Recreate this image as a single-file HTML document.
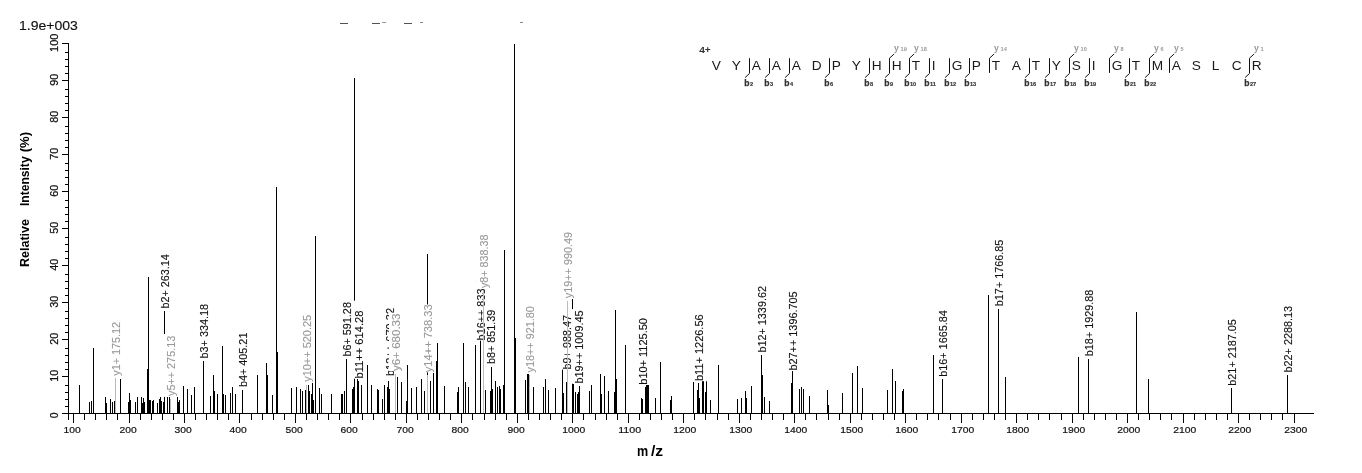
<!DOCTYPE html>
<html lang="en"><head><meta charset="utf-8"><title>MS/MS spectrum</title>
<style>html,body{margin:0;padding:0;background:#fff}body{width:1362px;height:473px;overflow:hidden}svg{display:block}text{font-family:"Liberation Sans",sans-serif}.k{stroke:#111;stroke-width:.13px}.g{stroke:#999;stroke-width:.12px}</style></head><body>
<svg width="1362" height="473" viewBox="0 0 1362 473">
<rect width="1362" height="473" fill="#fff"/>
<g shape-rendering="crispEdges" fill="#000">
<rect x="68" y="43" width="1" height="377"/>
<rect x="62" y="413" width="1252" height="1"/>
<rect x="62" y="413" width="6" height="1"/>
<rect x="65" y="406" width="3" height="1"/>
<rect x="65" y="399" width="3" height="1"/>
<rect x="65" y="392" width="3" height="1"/>
<rect x="65" y="385" width="3" height="1"/>
<rect x="62" y="376" width="6" height="1"/>
<rect x="65" y="369" width="3" height="1"/>
<rect x="65" y="362" width="3" height="1"/>
<rect x="65" y="355" width="3" height="1"/>
<rect x="65" y="348" width="3" height="1"/>
<rect x="62" y="339" width="6" height="1"/>
<rect x="65" y="332" width="3" height="1"/>
<rect x="65" y="325" width="3" height="1"/>
<rect x="65" y="318" width="3" height="1"/>
<rect x="65" y="311" width="3" height="1"/>
<rect x="62" y="302" width="6" height="1"/>
<rect x="65" y="295" width="3" height="1"/>
<rect x="65" y="288" width="3" height="1"/>
<rect x="65" y="281" width="3" height="1"/>
<rect x="65" y="274" width="3" height="1"/>
<rect x="62" y="265" width="6" height="1"/>
<rect x="65" y="258" width="3" height="1"/>
<rect x="65" y="251" width="3" height="1"/>
<rect x="65" y="244" width="3" height="1"/>
<rect x="65" y="237" width="3" height="1"/>
<rect x="62" y="228" width="6" height="1"/>
<rect x="65" y="221" width="3" height="1"/>
<rect x="65" y="214" width="3" height="1"/>
<rect x="65" y="207" width="3" height="1"/>
<rect x="65" y="200" width="3" height="1"/>
<rect x="62" y="191" width="6" height="1"/>
<rect x="65" y="184" width="3" height="1"/>
<rect x="65" y="177" width="3" height="1"/>
<rect x="65" y="170" width="3" height="1"/>
<rect x="65" y="163" width="3" height="1"/>
<rect x="62" y="154" width="6" height="1"/>
<rect x="65" y="147" width="3" height="1"/>
<rect x="65" y="140" width="3" height="1"/>
<rect x="65" y="133" width="3" height="1"/>
<rect x="65" y="126" width="3" height="1"/>
<rect x="62" y="117" width="6" height="1"/>
<rect x="65" y="110" width="3" height="1"/>
<rect x="65" y="103" width="3" height="1"/>
<rect x="65" y="96" width="3" height="1"/>
<rect x="65" y="89" width="3" height="1"/>
<rect x="62" y="80" width="6" height="1"/>
<rect x="65" y="73" width="3" height="1"/>
<rect x="65" y="66" width="3" height="1"/>
<rect x="65" y="59" width="3" height="1"/>
<rect x="65" y="52" width="3" height="1"/>
<rect x="62" y="43" width="6" height="1"/>
<rect x="73" y="413" width="1" height="10"/>
<rect x="84" y="413" width="1" height="7"/>
<rect x="95" y="413" width="1" height="7"/>
<rect x="106" y="413" width="1" height="7"/>
<rect x="117" y="413" width="1" height="7"/>
<rect x="129" y="413" width="1" height="10"/>
<rect x="140" y="413" width="1" height="7"/>
<rect x="151" y="413" width="1" height="7"/>
<rect x="162" y="413" width="1" height="7"/>
<rect x="173" y="413" width="1" height="7"/>
<rect x="184" y="413" width="1" height="10"/>
<rect x="195" y="413" width="1" height="7"/>
<rect x="206" y="413" width="1" height="7"/>
<rect x="217" y="413" width="1" height="7"/>
<rect x="228" y="413" width="1" height="7"/>
<rect x="239" y="413" width="1" height="10"/>
<rect x="251" y="413" width="1" height="7"/>
<rect x="262" y="413" width="1" height="7"/>
<rect x="273" y="413" width="1" height="7"/>
<rect x="284" y="413" width="1" height="7"/>
<rect x="295" y="413" width="1" height="10"/>
<rect x="306" y="413" width="1" height="7"/>
<rect x="317" y="413" width="1" height="7"/>
<rect x="328" y="413" width="1" height="7"/>
<rect x="339" y="413" width="1" height="7"/>
<rect x="350" y="413" width="1" height="10"/>
<rect x="362" y="413" width="1" height="7"/>
<rect x="373" y="413" width="1" height="7"/>
<rect x="384" y="413" width="1" height="7"/>
<rect x="395" y="413" width="1" height="7"/>
<rect x="406" y="413" width="1" height="10"/>
<rect x="417" y="413" width="1" height="7"/>
<rect x="428" y="413" width="1" height="7"/>
<rect x="439" y="413" width="1" height="7"/>
<rect x="450" y="413" width="1" height="7"/>
<rect x="461" y="413" width="1" height="10"/>
<rect x="472" y="413" width="1" height="7"/>
<rect x="484" y="413" width="1" height="7"/>
<rect x="495" y="413" width="1" height="7"/>
<rect x="506" y="413" width="1" height="7"/>
<rect x="517" y="413" width="1" height="10"/>
<rect x="528" y="413" width="1" height="7"/>
<rect x="539" y="413" width="1" height="7"/>
<rect x="550" y="413" width="1" height="7"/>
<rect x="561" y="413" width="1" height="7"/>
<rect x="572" y="413" width="1" height="10"/>
<rect x="583" y="413" width="1" height="7"/>
<rect x="595" y="413" width="1" height="7"/>
<rect x="606" y="413" width="1" height="7"/>
<rect x="617" y="413" width="1" height="7"/>
<rect x="628" y="413" width="1" height="10"/>
<rect x="639" y="413" width="1" height="7"/>
<rect x="650" y="413" width="1" height="7"/>
<rect x="661" y="413" width="1" height="7"/>
<rect x="672" y="413" width="1" height="7"/>
<rect x="683" y="413" width="1" height="10"/>
<rect x="694" y="413" width="1" height="7"/>
<rect x="705" y="413" width="1" height="7"/>
<rect x="717" y="413" width="1" height="7"/>
<rect x="728" y="413" width="1" height="7"/>
<rect x="739" y="413" width="1" height="10"/>
<rect x="750" y="413" width="1" height="7"/>
<rect x="761" y="413" width="1" height="7"/>
<rect x="772" y="413" width="1" height="7"/>
<rect x="783" y="413" width="1" height="7"/>
<rect x="794" y="413" width="1" height="10"/>
<rect x="805" y="413" width="1" height="7"/>
<rect x="816" y="413" width="1" height="7"/>
<rect x="828" y="413" width="1" height="7"/>
<rect x="839" y="413" width="1" height="7"/>
<rect x="850" y="413" width="1" height="10"/>
<rect x="861" y="413" width="1" height="7"/>
<rect x="872" y="413" width="1" height="7"/>
<rect x="883" y="413" width="1" height="7"/>
<rect x="894" y="413" width="1" height="7"/>
<rect x="905" y="413" width="1" height="10"/>
<rect x="916" y="413" width="1" height="7"/>
<rect x="927" y="413" width="1" height="7"/>
<rect x="938" y="413" width="1" height="7"/>
<rect x="950" y="413" width="1" height="7"/>
<rect x="961" y="413" width="1" height="10"/>
<rect x="972" y="413" width="1" height="7"/>
<rect x="983" y="413" width="1" height="7"/>
<rect x="994" y="413" width="1" height="7"/>
<rect x="1005" y="413" width="1" height="7"/>
<rect x="1016" y="413" width="1" height="10"/>
<rect x="1027" y="413" width="1" height="7"/>
<rect x="1038" y="413" width="1" height="7"/>
<rect x="1049" y="413" width="1" height="7"/>
<rect x="1061" y="413" width="1" height="7"/>
<rect x="1072" y="413" width="1" height="10"/>
<rect x="1083" y="413" width="1" height="7"/>
<rect x="1094" y="413" width="1" height="7"/>
<rect x="1105" y="413" width="1" height="7"/>
<rect x="1116" y="413" width="1" height="7"/>
<rect x="1127" y="413" width="1" height="10"/>
<rect x="1138" y="413" width="1" height="7"/>
<rect x="1149" y="413" width="1" height="7"/>
<rect x="1160" y="413" width="1" height="7"/>
<rect x="1171" y="413" width="1" height="7"/>
<rect x="1183" y="413" width="1" height="10"/>
<rect x="1194" y="413" width="1" height="7"/>
<rect x="1205" y="413" width="1" height="7"/>
<rect x="1216" y="413" width="1" height="7"/>
<rect x="1227" y="413" width="1" height="7"/>
<rect x="1238" y="413" width="1" height="10"/>
<rect x="1249" y="413" width="1" height="7"/>
<rect x="1260" y="413" width="1" height="7"/>
<rect x="1271" y="413" width="1" height="7"/>
<rect x="1282" y="413" width="1" height="7"/>
<rect x="1294" y="413" width="1" height="10"/>
</g>
<g class="k" font-size="9.9" fill="#111" style="stroke-width:.2px">
<text x="63.5" y="433.2" textLength="17.2" lengthAdjust="spacingAndGlyphs">100</text>
<text x="119.5" y="433.2" textLength="17.2" lengthAdjust="spacingAndGlyphs">200</text>
<text x="174.5" y="433.2" textLength="17.2" lengthAdjust="spacingAndGlyphs">300</text>
<text x="229.5" y="433.2" textLength="17.2" lengthAdjust="spacingAndGlyphs">400</text>
<text x="285.5" y="433.2" textLength="17.2" lengthAdjust="spacingAndGlyphs">500</text>
<text x="340.5" y="433.2" textLength="17.2" lengthAdjust="spacingAndGlyphs">600</text>
<text x="396.5" y="433.2" textLength="17.2" lengthAdjust="spacingAndGlyphs">700</text>
<text x="451.5" y="433.2" textLength="17.2" lengthAdjust="spacingAndGlyphs">800</text>
<text x="507.5" y="433.2" textLength="17.2" lengthAdjust="spacingAndGlyphs">900</text>
<text x="562.2" y="433.2" textLength="23.0" lengthAdjust="spacingAndGlyphs">1000</text>
<text x="618.2" y="433.2" textLength="23.0" lengthAdjust="spacingAndGlyphs">1100</text>
<text x="673.2" y="433.2" textLength="23.0" lengthAdjust="spacingAndGlyphs">1200</text>
<text x="729.2" y="433.2" textLength="23.0" lengthAdjust="spacingAndGlyphs">1300</text>
<text x="784.2" y="433.2" textLength="23.0" lengthAdjust="spacingAndGlyphs">1400</text>
<text x="840.2" y="433.2" textLength="23.0" lengthAdjust="spacingAndGlyphs">1500</text>
<text x="895.2" y="433.2" textLength="23.0" lengthAdjust="spacingAndGlyphs">1600</text>
<text x="951.2" y="433.2" textLength="23.0" lengthAdjust="spacingAndGlyphs">1700</text>
<text x="1006.2" y="433.2" textLength="23.0" lengthAdjust="spacingAndGlyphs">1800</text>
<text x="1062.2" y="433.2" textLength="23.0" lengthAdjust="spacingAndGlyphs">1900</text>
<text x="1117.2" y="433.2" textLength="23.0" lengthAdjust="spacingAndGlyphs">2000</text>
<text x="1173.2" y="433.2" textLength="23.0" lengthAdjust="spacingAndGlyphs">2100</text>
<text x="1228.2" y="433.2" textLength="23.0" lengthAdjust="spacingAndGlyphs">2200</text>
<text x="1284.2" y="433.2" textLength="23.0" lengthAdjust="spacingAndGlyphs">2300</text>
</g>
<g class="k" font-size="11.5" fill="#111" style="stroke-width:.25px">
<text transform="translate(58.0,418.3) rotate(-90)" textLength="5.8" lengthAdjust="spacingAndGlyphs">0</text>
<text transform="translate(58.0,381.8) rotate(-90)" textLength="12.0" lengthAdjust="spacingAndGlyphs">10</text>
<text transform="translate(58.0,344.8) rotate(-90)" textLength="12.0" lengthAdjust="spacingAndGlyphs">20</text>
<text transform="translate(58.0,307.8) rotate(-90)" textLength="12.0" lengthAdjust="spacingAndGlyphs">30</text>
<text transform="translate(58.0,270.8) rotate(-90)" textLength="12.0" lengthAdjust="spacingAndGlyphs">40</text>
<text transform="translate(58.0,233.8) rotate(-90)" textLength="12.0" lengthAdjust="spacingAndGlyphs">50</text>
<text transform="translate(58.0,196.8) rotate(-90)" textLength="12.0" lengthAdjust="spacingAndGlyphs">60</text>
<text transform="translate(58.0,159.8) rotate(-90)" textLength="12.0" lengthAdjust="spacingAndGlyphs">70</text>
<text transform="translate(58.0,122.8) rotate(-90)" textLength="12.0" lengthAdjust="spacingAndGlyphs">80</text>
<text transform="translate(58.0,85.8) rotate(-90)" textLength="12.0" lengthAdjust="spacingAndGlyphs">90</text>
<text transform="translate(58.0,51.9) rotate(-90)" textLength="18.2" lengthAdjust="spacingAndGlyphs">100</text>
</g>
<text class="k" x="19.0" y="30.2" font-size="12.3" fill="#111" textLength="58.9" lengthAdjust="spacingAndGlyphs">1.9e+003</text>
<g font-size="12" font-weight="bold" fill="#000">
<text transform="translate(29.3,267) rotate(-90)" textLength="48" lengthAdjust="spacingAndGlyphs">Relative</text>
<text transform="translate(29.3,206) rotate(-90)" textLength="49.6" lengthAdjust="spacingAndGlyphs">Intensity</text>
<text transform="translate(29.3,152.3) rotate(-90)" textLength="20.5" lengthAdjust="spacingAndGlyphs">(%)</text>
</g>
<text x="636.9" y="455.8" font-size="14.6" font-weight="bold" fill="#000" textLength="11.2" lengthAdjust="spacingAndGlyphs">m</text>
<text x="651.0" y="455.8" font-size="14.6" font-weight="bold" fill="#000" textLength="12.2" lengthAdjust="spacingAndGlyphs">/z</text>
<g fill="#555"><rect x="340" y="23" width="8" height="1"/><rect x="372" y="23" width="8" height="1"/><rect x="382" y="22" width="4" height="1" fill="#999"/><rect x="404" y="23" width="8" height="1"/><rect x="420" y="22" width="3" height="1" fill="#888"/><rect x="520" y="22" width="3" height="1" fill="#888"/></g>
<g shape-rendering="crispEdges" fill="#000">
<rect x="79" y="385" width="1" height="28"/>
<rect x="89" y="402" width="1" height="11"/>
<rect x="91" y="401" width="1" height="12"/>
<rect x="93" y="348" width="1" height="65"/>
<rect x="105" y="397" width="1" height="16"/>
<rect x="106" y="403" width="1" height="10"/>
<rect x="110" y="399" width="1" height="14"/>
<rect x="112" y="402" width="1" height="11"/>
<rect x="114" y="401" width="1" height="12"/>
<rect x="120" y="379" width="1" height="34"/>
<rect x="128" y="402" width="1" height="11"/>
<rect x="129" y="393" width="1" height="20"/>
<rect x="130" y="400" width="1" height="13"/>
<rect x="135" y="402" width="1" height="11"/>
<rect x="137" y="397" width="1" height="16"/>
<rect x="141" y="397" width="1" height="16"/>
<rect x="142" y="403" width="1" height="10"/>
<rect x="143" y="398" width="1" height="15"/>
<rect x="144" y="402" width="1" height="11"/>
<rect x="147" y="369" width="1" height="44"/>
<rect x="148" y="277" width="1" height="136"/>
<rect x="149" y="400" width="1" height="13"/>
<rect x="150" y="400" width="1" height="13"/>
<rect x="152" y="401" width="1" height="12"/>
<rect x="153" y="400" width="1" height="13"/>
<rect x="157" y="403" width="1" height="10"/>
<rect x="159" y="399" width="1" height="14"/>
<rect x="160" y="397" width="1" height="16"/>
<rect x="161" y="401" width="1" height="12"/>
<rect x="163" y="402" width="1" height="11"/>
<rect x="164" y="397" width="1" height="16"/>
<rect x="167" y="397" width="1" height="16"/>
<rect x="169" y="397" width="1" height="16"/>
<rect x="177" y="397" width="1" height="16"/>
<rect x="178" y="402" width="1" height="11"/>
<rect x="179" y="400" width="1" height="13"/>
<rect x="183" y="386" width="1" height="27"/>
<rect x="187" y="389" width="1" height="24"/>
<rect x="191" y="395" width="1" height="18"/>
<rect x="194" y="387" width="1" height="26"/>
<rect x="203" y="361" width="1" height="52"/>
<rect x="210" y="396" width="1" height="17"/>
<rect x="213" y="375" width="1" height="38"/>
<rect x="214" y="391" width="1" height="22"/>
<rect x="217" y="394" width="1" height="19"/>
<rect x="222" y="346" width="1" height="67"/>
<rect x="223" y="394" width="1" height="19"/>
<rect x="225" y="395" width="1" height="18"/>
<rect x="230" y="393" width="1" height="20"/>
<rect x="232" y="387" width="1" height="26"/>
<rect x="235" y="394" width="1" height="19"/>
<rect x="242" y="390" width="1" height="23"/>
<rect x="257" y="375" width="1" height="38"/>
<rect x="266" y="363" width="1" height="50"/>
<rect x="267" y="375" width="1" height="38"/>
<rect x="272" y="395" width="1" height="18"/>
<rect x="276" y="187" width="1" height="226"/>
<rect x="277" y="352" width="1" height="61"/>
<rect x="291" y="388" width="1" height="25"/>
<rect x="296" y="387" width="1" height="26"/>
<rect x="300" y="389" width="1" height="24"/>
<rect x="302" y="391" width="1" height="22"/>
<rect x="305" y="390" width="1" height="23"/>
<rect x="308" y="385" width="1" height="28"/>
<rect x="309" y="391" width="1" height="22"/>
<rect x="311" y="394" width="1" height="19"/>
<rect x="312" y="383" width="1" height="30"/>
<rect x="313" y="400" width="1" height="13"/>
<rect x="315" y="236" width="1" height="177"/>
<rect x="319" y="388" width="1" height="25"/>
<rect x="321" y="394" width="1" height="19"/>
<rect x="331" y="394" width="1" height="19"/>
<rect x="341" y="394" width="1" height="19"/>
<rect x="342" y="394" width="1" height="19"/>
<rect x="344" y="391" width="1" height="22"/>
<rect x="346" y="359" width="1" height="54"/>
<rect x="352" y="389" width="1" height="24"/>
<rect x="353" y="387" width="1" height="26"/>
<rect x="354" y="78" width="1" height="335"/>
<rect x="357" y="379" width="1" height="34"/>
<rect x="358" y="381" width="1" height="32"/>
<rect x="361" y="385" width="1" height="28"/>
<rect x="367" y="365" width="1" height="48"/>
<rect x="371" y="385" width="1" height="28"/>
<rect x="377" y="389" width="1" height="24"/>
<rect x="378" y="390" width="1" height="23"/>
<rect x="382" y="399" width="1" height="14"/>
<rect x="384" y="385" width="1" height="28"/>
<rect x="387" y="387" width="1" height="26"/>
<rect x="388" y="381" width="1" height="32"/>
<rect x="389" y="389" width="1" height="24"/>
<rect x="397" y="377" width="1" height="36"/>
<rect x="401" y="382" width="1" height="31"/>
<rect x="406" y="401" width="1" height="12"/>
<rect x="407" y="365" width="1" height="48"/>
<rect x="411" y="388" width="1" height="25"/>
<rect x="416" y="387" width="1" height="26"/>
<rect x="421" y="379" width="1" height="34"/>
<rect x="424" y="391" width="1" height="22"/>
<rect x="427" y="254" width="1" height="159"/>
<rect x="430" y="381" width="1" height="32"/>
<rect x="433" y="373" width="1" height="40"/>
<rect x="436" y="361" width="1" height="52"/>
<rect x="437" y="343" width="1" height="70"/>
<rect x="444" y="386" width="1" height="27"/>
<rect x="457" y="392" width="1" height="21"/>
<rect x="458" y="387" width="1" height="26"/>
<rect x="463" y="343" width="1" height="70"/>
<rect x="465" y="382" width="1" height="31"/>
<rect x="468" y="387" width="1" height="26"/>
<rect x="475" y="345" width="1" height="68"/>
<rect x="480" y="336" width="1" height="77"/>
<rect x="485" y="390" width="1" height="23"/>
<rect x="490" y="391" width="1" height="22"/>
<rect x="491" y="367" width="1" height="46"/>
<rect x="492" y="389" width="1" height="24"/>
<rect x="495" y="381" width="1" height="32"/>
<rect x="497" y="387" width="1" height="26"/>
<rect x="499" y="386" width="1" height="27"/>
<rect x="500" y="389" width="1" height="24"/>
<rect x="503" y="385" width="1" height="28"/>
<rect x="504" y="250" width="1" height="163"/>
<rect x="514" y="44" width="1" height="369"/>
<rect x="515" y="338" width="1" height="75"/>
<rect x="525" y="380" width="1" height="33"/>
<rect x="527" y="374" width="1" height="39"/>
<rect x="528" y="374" width="1" height="39"/>
<rect x="533" y="387" width="1" height="26"/>
<rect x="543" y="387" width="1" height="26"/>
<rect x="545" y="379" width="1" height="34"/>
<rect x="548" y="390" width="1" height="23"/>
<rect x="555" y="388" width="1" height="25"/>
<rect x="562" y="369" width="1" height="44"/>
<rect x="563" y="393" width="1" height="20"/>
<rect x="572" y="299" width="1" height="114"/>
<rect x="573" y="384" width="1" height="29"/>
<rect x="575" y="392" width="1" height="21"/>
<rect x="577" y="394" width="1" height="19"/>
<rect x="578" y="392" width="1" height="21"/>
<rect x="579" y="386" width="1" height="27"/>
<rect x="589" y="391" width="1" height="22"/>
<rect x="591" y="385" width="1" height="28"/>
<rect x="600" y="374" width="1" height="39"/>
<rect x="601" y="394" width="1" height="19"/>
<rect x="604" y="376" width="1" height="37"/>
<rect x="608" y="391" width="1" height="22"/>
<rect x="614" y="392" width="1" height="21"/>
<rect x="615" y="310" width="1" height="103"/>
<rect x="616" y="379" width="1" height="34"/>
<rect x="625" y="345" width="1" height="68"/>
<rect x="641" y="398" width="1" height="15"/>
<rect x="642" y="399" width="1" height="14"/>
<rect x="645" y="387" width="1" height="26"/>
<rect x="646" y="385" width="1" height="28"/>
<rect x="647" y="385" width="1" height="28"/>
<rect x="648" y="385" width="1" height="28"/>
<rect x="655" y="398" width="1" height="15"/>
<rect x="660" y="362" width="1" height="51"/>
<rect x="670" y="400" width="1" height="13"/>
<rect x="671" y="396" width="1" height="17"/>
<rect x="693" y="382" width="1" height="31"/>
<rect x="697" y="390" width="1" height="23"/>
<rect x="698" y="383" width="1" height="30"/>
<rect x="699" y="398" width="1" height="15"/>
<rect x="702" y="381" width="1" height="32"/>
<rect x="703" y="381" width="1" height="32"/>
<rect x="705" y="392" width="1" height="21"/>
<rect x="706" y="381" width="1" height="32"/>
<rect x="710" y="400" width="1" height="13"/>
<rect x="718" y="365" width="1" height="48"/>
<rect x="737" y="399" width="1" height="14"/>
<rect x="741" y="398" width="1" height="15"/>
<rect x="745" y="391" width="1" height="22"/>
<rect x="746" y="398" width="1" height="15"/>
<rect x="751" y="386" width="1" height="27"/>
<rect x="761" y="355" width="1" height="58"/>
<rect x="762" y="375" width="1" height="38"/>
<rect x="764" y="397" width="1" height="16"/>
<rect x="769" y="401" width="1" height="12"/>
<rect x="791" y="383" width="1" height="30"/>
<rect x="792" y="371" width="1" height="42"/>
<rect x="799" y="389" width="1" height="24"/>
<rect x="801" y="387" width="1" height="26"/>
<rect x="803" y="389" width="1" height="24"/>
<rect x="809" y="396" width="1" height="17"/>
<rect x="827" y="390" width="1" height="23"/>
<rect x="828" y="405" width="1" height="8"/>
<rect x="842" y="393" width="1" height="20"/>
<rect x="852" y="373" width="1" height="40"/>
<rect x="857" y="366" width="1" height="47"/>
<rect x="862" y="388" width="1" height="25"/>
<rect x="887" y="390" width="1" height="23"/>
<rect x="892" y="369" width="1" height="44"/>
<rect x="895" y="381" width="1" height="32"/>
<rect x="902" y="391" width="1" height="22"/>
<rect x="903" y="389" width="1" height="24"/>
<rect x="933" y="355" width="1" height="58"/>
<rect x="942" y="379" width="1" height="34"/>
<rect x="988" y="295" width="1" height="118"/>
<rect x="998" y="309" width="1" height="104"/>
<rect x="1005" y="377" width="1" height="36"/>
<rect x="1078" y="357" width="1" height="56"/>
<rect x="1088" y="359" width="1" height="54"/>
<rect x="1136" y="312" width="1" height="101"/>
<rect x="1148" y="379" width="1" height="34"/>
<rect x="1231" y="388" width="1" height="25"/>
<rect x="1287" y="375" width="1" height="38"/>
</g>
<rect shape-rendering="crispEdges" x="115" y="378" width="1" height="35" fill="#bbb"/>
<rect x="109" y="320.6" width="15" height="55.3" fill="#fff"/>
<text class="g" transform="translate(120.1,375.7) rotate(-90)" font-size="11" fill="#999" textLength="53.7" lengthAdjust="spacingAndGlyphs">y1+ 175.12</text>
<rect shape-rendering="crispEdges" x="164" y="311" width="1" height="23" fill="#000"/>
<rect x="158" y="252.8" width="15" height="56.0" fill="#fff"/>
<text class="k" transform="translate(169.1,308.6) rotate(-90)" font-size="11" fill="#111" textLength="54.4" lengthAdjust="spacingAndGlyphs">b2+ 263.14</text>
<rect shape-rendering="crispEdges" x="170" y="399" width="1" height="14" fill="#bbb"/>
<rect x="164" y="334.4" width="15" height="61.8" fill="#fff"/>
<text class="g" transform="translate(175.1,396.0) rotate(-90)" font-size="11" fill="#999" textLength="60.2" lengthAdjust="spacingAndGlyphs">y5++ 275.13</text>
<rect shape-rendering="crispEdges" x="203" y="361" width="1" height="52" fill="#000"/>
<rect x="197" y="302.6" width="15" height="56.0" fill="#fff"/>
<text class="k" transform="translate(208.1,358.4) rotate(-90)" font-size="11" fill="#111" textLength="54.4" lengthAdjust="spacingAndGlyphs">b3+ 334.18</text>
<rect shape-rendering="crispEdges" x="242" y="390" width="1" height="23" fill="#000"/>
<rect x="236" y="331.2" width="15" height="56.0" fill="#fff"/>
<text class="k" transform="translate(247.1,387.0) rotate(-90)" font-size="11" fill="#111" textLength="54.4" lengthAdjust="spacingAndGlyphs">b4+ 405.21</text>
<rect shape-rendering="crispEdges" x="306" y="385" width="1" height="28" fill="#bbb"/>
<rect x="300" y="314.1" width="15" height="67.9" fill="#fff"/>
<text class="g" transform="translate(311.1,381.8) rotate(-90)" font-size="11" fill="#999" textLength="67.0" lengthAdjust="spacingAndGlyphs">y10++ 520.25</text>
<rect shape-rendering="crispEdges" x="346" y="359" width="1" height="54" fill="#000"/>
<rect x="340" y="300.7" width="15" height="56.0" fill="#fff"/>
<text class="k" transform="translate(351.1,356.5) rotate(-90)" font-size="11" fill="#111" textLength="54.4" lengthAdjust="spacingAndGlyphs">b6+ 591.28</text>
<rect shape-rendering="crispEdges" x="358" y="381" width="1" height="32" fill="#000"/>
<rect x="352" y="310.2" width="15" height="68.5" fill="#fff"/>
<text class="k" transform="translate(363.1,378.5) rotate(-90)" font-size="11" fill="#111" textLength="67.9" lengthAdjust="spacingAndGlyphs">b11++ 614.28</text>
<rect shape-rendering="crispEdges" x="389" y="389" width="1" height="24" fill="#000"/>
<rect x="383" y="307.8" width="15" height="68.5" fill="#fff"/>
<text class="k" transform="translate(394.1,376.1) rotate(-90)" font-size="11" fill="#111" textLength="68.2" lengthAdjust="spacingAndGlyphs">b12++ 670.32</text>
<rect shape-rendering="crispEdges" x="395" y="374" width="1" height="39" fill="#bbb"/>
<rect x="389" y="312.6" width="15" height="58.5" fill="#fff"/>
<text class="g" transform="translate(400.1,370.9) rotate(-90)" font-size="11" fill="#999" textLength="57.3" lengthAdjust="spacingAndGlyphs">y6+ 680.33</text>
<rect shape-rendering="crispEdges" x="427" y="375" width="1" height="38" fill="#bbb"/>
<rect x="421" y="304.5" width="15" height="67.9" fill="#fff"/>
<text class="g" transform="translate(432.1,372.2) rotate(-90)" font-size="11" fill="#999" textLength="67.8" lengthAdjust="spacingAndGlyphs">y14++ 738.33</text>
<rect shape-rendering="crispEdges" x="480" y="343" width="1" height="70" fill="#000"/>
<rect x="474" y="272.1" width="15" height="68.5" fill="#fff"/>
<text class="k" transform="translate(485.1,340.4) rotate(-90)" font-size="11" fill="#111" textLength="66.9" lengthAdjust="spacingAndGlyphs">b16++ 833.42</text>
<rect shape-rendering="crispEdges" x="483" y="291" width="1" height="122" fill="#bbb"/>
<rect x="477" y="233.0" width="15" height="55.3" fill="#fff"/>
<text class="g" transform="translate(488.1,288.1) rotate(-90)" font-size="11" fill="#999" textLength="53.7" lengthAdjust="spacingAndGlyphs">y8+ 838.38</text>
<rect shape-rendering="crispEdges" x="491" y="367" width="1" height="46" fill="#000"/>
<rect x="485" y="308.3" width="15" height="56.0" fill="#fff"/>
<text class="k" transform="translate(495.1,364.1) rotate(-90)" font-size="11" fill="#111" textLength="54.4" lengthAdjust="spacingAndGlyphs">b8+ 851.39</text>
<rect shape-rendering="crispEdges" x="529" y="375" width="1" height="38" fill="#bbb"/>
<rect x="523" y="304.8" width="15" height="67.9" fill="#fff"/>
<text class="g" transform="translate(534.1,372.5) rotate(-90)" font-size="11" fill="#999" textLength="66.3" lengthAdjust="spacingAndGlyphs">y18++ 921.80</text>
<rect shape-rendering="crispEdges" x="566" y="382" width="1" height="31" fill="#000"/>
<rect x="560" y="313.6" width="15" height="56.0" fill="#fff"/>
<text class="k" transform="translate(571.1,369.4) rotate(-90)" font-size="11" fill="#111" textLength="54.4" lengthAdjust="spacingAndGlyphs">b9+ 988.47</text>
<rect shape-rendering="crispEdges" x="567" y="301" width="1" height="112" fill="#bbb"/>
<rect x="561" y="230.5" width="15" height="67.9" fill="#fff"/>
<text class="g" transform="translate(572.1,298.2) rotate(-90)" font-size="11" fill="#999" textLength="66.3" lengthAdjust="spacingAndGlyphs">y19++ 990.49</text>
<rect shape-rendering="crispEdges" x="578" y="392" width="1" height="21" fill="#000"/>
<rect x="572" y="309.1" width="15" height="74.6" fill="#fff"/>
<text class="k" transform="translate(583.1,383.5) rotate(-90)" font-size="11" fill="#111" textLength="73.0" lengthAdjust="spacingAndGlyphs">b19++ 1009.45</text>
<rect shape-rendering="crispEdges" x="642" y="399" width="1" height="14" fill="#000"/>
<rect x="636" y="316.7" width="15" height="68.2" fill="#fff"/>
<text class="k" transform="translate(647.1,384.7) rotate(-90)" font-size="11" fill="#111" textLength="66.6" lengthAdjust="spacingAndGlyphs">b10+ 1125.50</text>
<rect shape-rendering="crispEdges" x="698" y="384" width="1" height="29" fill="#000"/>
<rect x="692" y="313.0" width="15" height="68.2" fill="#fff"/>
<text class="k" transform="translate(703.1,381.0) rotate(-90)" font-size="11" fill="#111" textLength="66.6" lengthAdjust="spacingAndGlyphs">b11+ 1226.56</text>
<rect shape-rendering="crispEdges" x="761" y="355" width="1" height="58" fill="#000"/>
<rect x="755" y="284.6" width="15" height="68.2" fill="#fff"/>
<text class="k" transform="translate(766.1,352.6) rotate(-90)" font-size="11" fill="#111" textLength="66.6" lengthAdjust="spacingAndGlyphs">b12+ 1339.62</text>
<rect shape-rendering="crispEdges" x="792" y="373" width="1" height="40" fill="#000"/>
<rect x="786" y="290.0" width="15" height="80.7" fill="#fff"/>
<text class="k" transform="translate(797.1,370.5) rotate(-90)" font-size="11" fill="#111" textLength="79.1" lengthAdjust="spacingAndGlyphs">b27++ 1396.705</text>
<rect shape-rendering="crispEdges" x="942" y="380" width="1" height="33" fill="#000"/>
<rect x="936" y="308.8" width="15" height="68.2" fill="#fff"/>
<text class="k" transform="translate(947.1,376.8) rotate(-90)" font-size="11" fill="#111" textLength="66.6" lengthAdjust="spacingAndGlyphs">b16+ 1665.84</text>
<rect shape-rendering="crispEdges" x="998" y="309" width="1" height="104" fill="#000"/>
<rect x="992" y="238.2" width="15" height="68.2" fill="#fff"/>
<text class="k" transform="translate(1003.1,306.2) rotate(-90)" font-size="11" fill="#111" textLength="66.6" lengthAdjust="spacingAndGlyphs">b17+ 1766.85</text>
<rect shape-rendering="crispEdges" x="1088" y="359" width="1" height="54" fill="#000"/>
<rect x="1082" y="288.2" width="15" height="68.2" fill="#fff"/>
<text class="k" transform="translate(1093.1,356.2) rotate(-90)" font-size="11" fill="#111" textLength="66.6" lengthAdjust="spacingAndGlyphs">b18+ 1929.88</text>
<rect shape-rendering="crispEdges" x="1231" y="388" width="1" height="25" fill="#000"/>
<rect x="1225" y="317.7" width="15" height="68.2" fill="#fff"/>
<text class="k" transform="translate(1236.1,385.7) rotate(-90)" font-size="11" fill="#111" textLength="66.6" lengthAdjust="spacingAndGlyphs">b21+ 2187.05</text>
<rect shape-rendering="crispEdges" x="1287" y="375" width="1" height="38" fill="#000"/>
<rect x="1281" y="304.5" width="15" height="68.2" fill="#fff"/>
<text class="k" transform="translate(1292.1,372.5) rotate(-90)" font-size="11" fill="#111" textLength="66.6" lengthAdjust="spacingAndGlyphs">b22+ 2288.13</text>
<g font-size="12.8" fill="#1a1a1a">
<text transform="translate(711.7,70.1) scale(1.07,1)">V</text>
<text transform="translate(731.7,70.1) scale(1.07,1)">Y</text>
<text transform="translate(751.7,70.1) scale(1.07,1)">A</text>
<text transform="translate(771.7,70.1) scale(1.07,1)">A</text>
<text transform="translate(791.7,70.1) scale(1.07,1)">A</text>
<text transform="translate(811.7,70.1) scale(1.07,1)">D</text>
<text transform="translate(831.7,70.1) scale(1.07,1)">P</text>
<text transform="translate(851.7,70.1) scale(1.07,1)">Y</text>
<text transform="translate(871.7,70.1) scale(1.07,1)">H</text>
<text transform="translate(891.7,70.1) scale(1.07,1)">H</text>
<text transform="translate(911.7,70.1) scale(1.07,1)">T</text>
<text transform="translate(931.7,70.1) scale(1.07,1)">I</text>
<text transform="translate(951.7,70.1) scale(1.07,1)">G</text>
<text transform="translate(971.7,70.1) scale(1.07,1)">P</text>
<text transform="translate(991.7,70.1) scale(1.07,1)">T</text>
<text transform="translate(1011.7,70.1) scale(1.07,1)">A</text>
<text transform="translate(1031.7,70.1) scale(1.07,1)">T</text>
<text transform="translate(1051.7,70.1) scale(1.07,1)">Y</text>
<text transform="translate(1071.7,70.1) scale(1.07,1)">S</text>
<text transform="translate(1091.7,70.1) scale(1.07,1)">I</text>
<text transform="translate(1111.7,70.1) scale(1.07,1)">G</text>
<text transform="translate(1131.7,70.1) scale(1.07,1)">T</text>
<text transform="translate(1151.7,70.1) scale(1.07,1)">M</text>
<text transform="translate(1171.7,70.1) scale(1.07,1)">A</text>
<text transform="translate(1191.7,70.1) scale(1.07,1)">S</text>
<text transform="translate(1211.7,70.1) scale(1.07,1)">L</text>
<text transform="translate(1231.7,70.1) scale(1.07,1)">C</text>
<text transform="translate(1251.7,70.1) scale(1.07,1)">R</text>
</g>
<g fill="none" stroke="#111" stroke-width="1">
<polyline points="749.5,58.2 749.5,73.4 745.1,77.6"/>
<polyline points="769.5,58.2 769.5,73.4 765.1,77.6"/>
<polyline points="789.5,58.2 789.5,73.4 785.1,77.6"/>
<polyline points="829.5,58.2 829.5,73.4 825.1,77.6"/>
<polyline points="869.5,58.2 869.5,73.4 865.1,77.6"/>
<polyline points="894.1,54.0 889.5,58.2 889.5,73.4 885.1,77.6"/>
<polyline points="914.1,54.0 909.5,58.2 909.5,73.4 905.1,77.6"/>
<polyline points="929.5,58.2 929.5,73.4 925.1,77.6"/>
<polyline points="949.5,58.2 949.5,73.4 945.1,77.6"/>
<polyline points="969.5,58.2 969.5,73.4 965.1,77.6"/>
<polyline points="994.1,54.0 989.5,58.2 989.5,72.9"/>
<polyline points="1029.5,58.2 1029.5,73.4 1025.1,77.6"/>
<polyline points="1049.5,58.2 1049.5,73.4 1045.1,77.6"/>
<polyline points="1074.1,54.0 1069.5,58.2 1069.5,73.4 1065.1,77.6"/>
<polyline points="1089.5,58.2 1089.5,73.4 1085.1,77.6"/>
<polyline points="1114.1,54.0 1109.5,58.2 1109.5,72.9"/>
<polyline points="1129.5,58.2 1129.5,73.4 1125.1,77.6"/>
<polyline points="1154.1,54.0 1149.5,58.2 1149.5,73.4 1145.1,77.6"/>
<polyline points="1174.1,54.0 1169.5,58.2 1169.5,72.9"/>
<polyline points="1254.1,54.0 1249.5,58.2 1249.5,73.4 1245.1,77.6"/>
</g>
<text x="744.2" y="85.9" font-size="8.6" font-weight="bold" fill="#333" stroke="#333" stroke-width=".25">b<tspan font-size="5.6" dx="0.5" stroke-width=".15">2</tspan></text>
<text x="764.2" y="85.9" font-size="8.6" font-weight="bold" fill="#333" stroke="#333" stroke-width=".25">b<tspan font-size="5.6" dx="0.5" stroke-width=".15">3</tspan></text>
<text x="784.2" y="85.9" font-size="8.6" font-weight="bold" fill="#333" stroke="#333" stroke-width=".25">b<tspan font-size="5.6" dx="0.5" stroke-width=".15">4</tspan></text>
<text x="824.2" y="85.9" font-size="8.6" font-weight="bold" fill="#333" stroke="#333" stroke-width=".25">b<tspan font-size="5.6" dx="0.5" stroke-width=".15">6</tspan></text>
<text x="864.2" y="85.9" font-size="8.6" font-weight="bold" fill="#333" stroke="#333" stroke-width=".25">b<tspan font-size="5.6" dx="0.5" stroke-width=".15">8</tspan></text>
<text x="884.2" y="85.9" font-size="8.6" font-weight="bold" fill="#333" stroke="#333" stroke-width=".25">b<tspan font-size="5.6" dx="0.5" stroke-width=".15">9</tspan></text>
<text x="893.9" y="50.8" font-size="8.6" font-weight="bold" fill="#999">y<tspan font-size="5.6" dx="1.9">19</tspan></text>
<text x="904.2" y="85.9" font-size="8.6" font-weight="bold" fill="#333" stroke="#333" stroke-width=".25">b<tspan font-size="5.6" dx="0.5" stroke-width=".15">10</tspan></text>
<text x="913.9" y="50.8" font-size="8.6" font-weight="bold" fill="#999">y<tspan font-size="5.6" dx="1.9">18</tspan></text>
<text x="924.2" y="85.9" font-size="8.6" font-weight="bold" fill="#333" stroke="#333" stroke-width=".25">b<tspan font-size="5.6" dx="0.5" stroke-width=".15">11</tspan></text>
<text x="944.2" y="85.9" font-size="8.6" font-weight="bold" fill="#333" stroke="#333" stroke-width=".25">b<tspan font-size="5.6" dx="0.5" stroke-width=".15">12</tspan></text>
<text x="964.2" y="85.9" font-size="8.6" font-weight="bold" fill="#333" stroke="#333" stroke-width=".25">b<tspan font-size="5.6" dx="0.5" stroke-width=".15">13</tspan></text>
<text x="993.9" y="50.8" font-size="8.6" font-weight="bold" fill="#999">y<tspan font-size="5.6" dx="1.9">14</tspan></text>
<text x="1024.2" y="85.9" font-size="8.6" font-weight="bold" fill="#333" stroke="#333" stroke-width=".25">b<tspan font-size="5.6" dx="0.5" stroke-width=".15">16</tspan></text>
<text x="1044.2" y="85.9" font-size="8.6" font-weight="bold" fill="#333" stroke="#333" stroke-width=".25">b<tspan font-size="5.6" dx="0.5" stroke-width=".15">17</tspan></text>
<text x="1064.2" y="85.9" font-size="8.6" font-weight="bold" fill="#333" stroke="#333" stroke-width=".25">b<tspan font-size="5.6" dx="0.5" stroke-width=".15">18</tspan></text>
<text x="1073.9" y="50.8" font-size="8.6" font-weight="bold" fill="#999">y<tspan font-size="5.6" dx="1.9">10</tspan></text>
<text x="1084.2" y="85.9" font-size="8.6" font-weight="bold" fill="#333" stroke="#333" stroke-width=".25">b<tspan font-size="5.6" dx="0.5" stroke-width=".15">19</tspan></text>
<text x="1113.9" y="50.8" font-size="8.6" font-weight="bold" fill="#999">y<tspan font-size="5.6" dx="1.9">8</tspan></text>
<text x="1124.2" y="85.9" font-size="8.6" font-weight="bold" fill="#333" stroke="#333" stroke-width=".25">b<tspan font-size="5.6" dx="0.5" stroke-width=".15">21</tspan></text>
<text x="1144.2" y="85.9" font-size="8.6" font-weight="bold" fill="#333" stroke="#333" stroke-width=".25">b<tspan font-size="5.6" dx="0.5" stroke-width=".15">22</tspan></text>
<text x="1153.9" y="50.8" font-size="8.6" font-weight="bold" fill="#999">y<tspan font-size="5.6" dx="1.9">6</tspan></text>
<text x="1173.9" y="50.8" font-size="8.6" font-weight="bold" fill="#999">y<tspan font-size="5.6" dx="1.9">5</tspan></text>
<text x="1244.2" y="85.9" font-size="8.6" font-weight="bold" fill="#333" stroke="#333" stroke-width=".25">b<tspan font-size="5.6" dx="0.5" stroke-width=".15">27</tspan></text>
<text x="1253.9" y="50.8" font-size="8.6" font-weight="bold" fill="#999">y<tspan font-size="5.6" dx="1.9">1</tspan></text>
<text x="699.2" y="52.7" font-size="8.2" font-weight="bold" fill="#333" textLength="11.6" lengthAdjust="spacingAndGlyphs">4+</text>
</svg></body></html>
